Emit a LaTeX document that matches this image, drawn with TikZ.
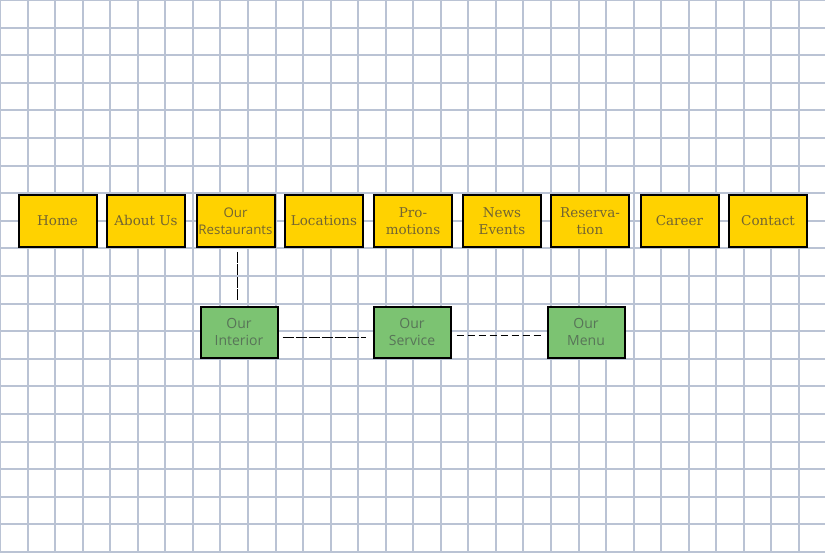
\documentclass[tikz,border=0pt]{standalone}
\usepackage{fontspec}
\setmainfont{DejaVu Serif}
\newfontfamily\boxsans{Open Sans}
\definecolor{gridc}{HTML}{BAC3D4}
\definecolor{goldf}{HTML}{FFD200}
\definecolor{goldt}{HTML}{736532}
\definecolor{greenf}{HTML}{7CC372}
\definecolor{greent}{HTML}{587458}
\tikzset{
  gridline/.style={gridc, line width=1.8pt},
  menubox/.style={draw=black, line width=2pt, fill=goldf, minimum width=78pt, minimum height=52pt,
    inner sep=0pt, align=center, text=goldt, font=\fontsize{13.5}{17}\selectfont},
  subbox/.style={draw=black, line width=2pt, fill=greenf, minimum width=77pt, minimum height=51pt,
    inner sep=0pt, align=center, text=greent, font=\boxsans\fontsize{14}{17}\selectfont},
  linkline/.style={black, line width=0.9pt},
}
\begin{document}
\begin{tikzpicture}[x=1pt,y=-1pt]
\useasboundingbox (0,0) rectangle (825,552);
\fill[white] (0,0) rectangle (825,552);
\foreach \i in {0,...,30} {
  \pgfmathsetmacro{\gx}{round(\i*27.55)}
  \draw[gridline] (\gx,0) -- (\gx,552);
}
\foreach \j in {0,...,20} {
  \pgfmathsetmacro{\gy}{round(\j*27.6)}
  \draw[gridline] (0,\gy) -- (825,\gy);
}
\node[menubox] (home) at (57.5,220.8) {Home};
\node[menubox] (about) at (146,220.8) {About Us};
\node[menubox, font=\boxsans\fontsize{13.3}{17}\selectfont] (rest) at (235.5,220.8) {Our\\Restaurants};
\node[menubox] (loc) at (324,220.8) {Locations};
\node[menubox] (promo) at (413,220.8) {Pro-\\motions};
\node[menubox] (news) at (502,220.8) {News\\Events};
\node[menubox] (resv) at (590,220.8) {Reserva-\\tion};
\node[menubox] (career) at (679.5,220.8) {Career};
\node[menubox] (contact) at (768,220.8) {Contact};
\node[subbox] (interior) at (239,332) {Our\\Interior};
\node[subbox] (service) at (412,332) {Our\\Service};
\node[subbox] (menu) at (586,332) {Our\\Menu};
\draw[linkline, dash pattern=on 11pt off 1.5pt] ([xshift=-1.3pt,yshift=-4pt]interior.north |- rest.south) -- ([xshift=-1.3pt,yshift=6pt]interior.north);
\draw[linkline, dash pattern=on 11pt off 2pt] ([xshift=4pt,yshift=-5pt]interior.east) -- ([xshift=-7pt,yshift=-5pt]service.west);
\draw[linkline, dash pattern=on 7pt off 4pt] ([xshift=5pt,yshift=-3pt]service.east) -- ([xshift=-6pt,yshift=-3pt]menu.west);
\end{tikzpicture}
\end{document}
